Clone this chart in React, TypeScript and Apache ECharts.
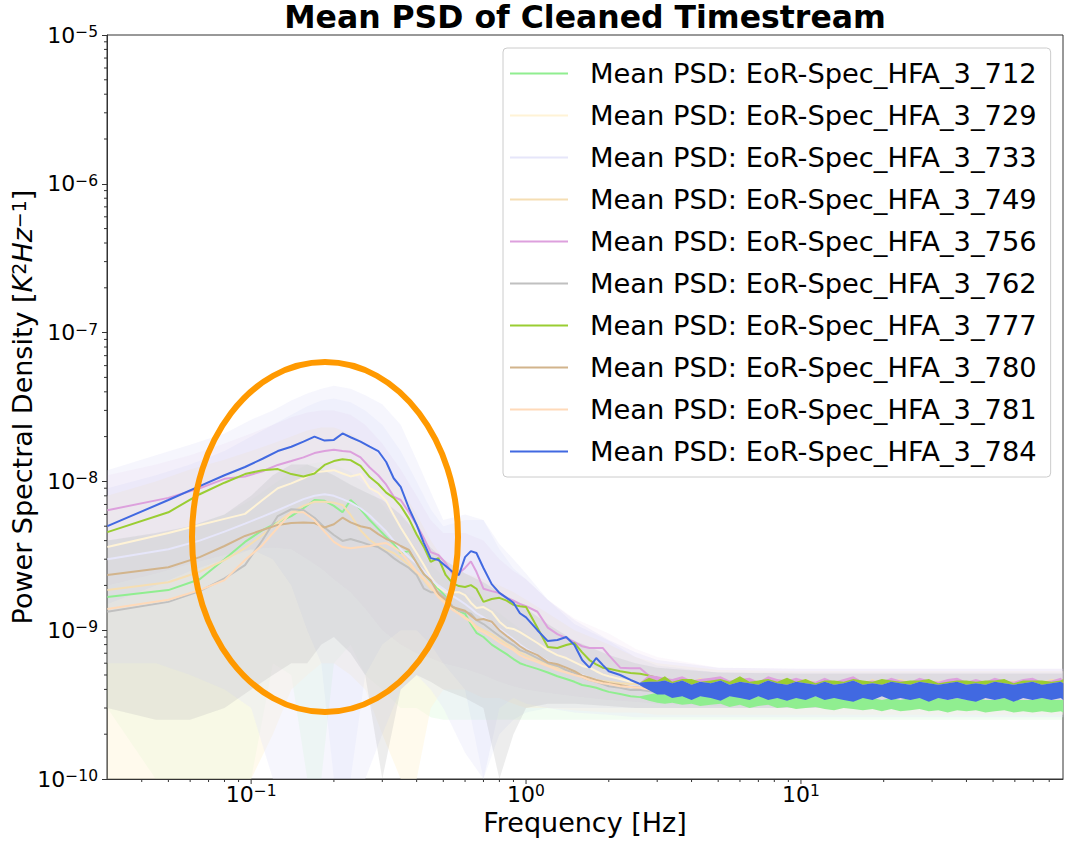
import React, { useEffect, useRef } from 'react';
import * as echarts from 'echarts';

const FONT = "'DejaVu Sans', 'Noto Sans', sans-serif";

const TITLE = 'Mean PSD of Cleaned Timestream';
const X_NAME = 'Frequency [Hz]';
const X_MIN = 0.0299;
const X_MAX = 89.8;
const Y_MIN = 1e-10;
const Y_MAX = 1e-5;
const X_TICK_EXPONENTS = [-1, 0, 1];
const Y_TICK_EXPONENTS = [-10, -9, -8, -7, -6, -5];
const X_MINOR_TICKS = [0.04, 0.05, 0.06, 0.07, 0.08, 0.09, 0.2, 0.3, 0.4, 0.5, 0.6, 0.7, 0.8, 0.9,
  2, 3, 4, 5, 6, 7, 8, 9, 20, 30, 40, 50, 60, 70, 80];
const X_MAJOR_TICKS = [0.1, 1, 10];
const Y_MINOR_TICKS = [
  2e-10, 3e-10, 4e-10, 5e-10, 6e-10, 7e-10, 8e-10, 9e-10,
  2e-9, 3e-9, 4e-9, 5e-9, 6e-9, 7e-9, 8e-9, 9e-9,
  2e-8, 3e-8, 4e-8, 5e-8, 6e-8, 7e-8, 8e-8, 9e-8,
  2e-7, 3e-7, 4e-7, 5e-7, 6e-7, 7e-7, 8e-7, 9e-7,
  2e-6, 3e-6, 4e-6, 5e-6, 6e-6, 7e-6, 8e-6, 9e-6];

const DETECTORS = ['712', '729', '733', '749', '756', '762', '777', '780', '781', '784'];
const COLORS = ['#90EE90', '#FFF3D6', '#E6E6FA', '#F5DEB3', '#DDA0DD', '#C0C0C0', '#9ACD32', '#D2B48C', '#FFDAB9', '#4169E1'];

// frequency grid of the mean PSD curves (low / mid frequencies)
const FREQ = [0.030, 0.050, 0.065, 0.080, 0.095, 0.110, 0.125, 0.140, 0.155, 0.170,
  0.185, 0.200, 0.215, 0.230, 0.250, 0.270, 0.290, 0.310, 0.330, 0.350,
  0.375, 0.400, 0.425, 0.450, 0.480, 0.510, 0.540, 0.570, 0.600, 0.630,
  0.660, 0.700, 0.750, 0.800, 0.850, 0.900, 0.950, 1.00, 1.10, 1.20,
  1.30, 1.40, 1.50, 1.60, 1.70, 1.80, 1.90, 2.00, 2.20, 2.40,
  2.60, 2.80, 3.00];

const PSD_712 = [1.67e-9, 1.86e-9, 2.2e-9, 3.0e-9, 3.92e-9, 4.7e-9, 5.3e-9, 5.85e-9, 6.6e-9, 7.5e-9,
  7.4e-9, 6.85e-9, 6.2e-9, 7.5e-9, 6.5e-9, 5.5e-9, 4.8e-9, 4.23e-9, 3.8e-9, 3.3e-9,
  3.4e-9, 2.83e-9, 2.4e-9, 2.14e-9, 1.9e-9, 1.68e-9, 1.41e-9, 1.35e-9, 1.29e-9, 1.1e-9,
  9.6e-10, 9.0e-10, 8.0e-10, 7.4e-10, 6.9e-10, 6.4e-10, 6.0e-10, 5.8e-10, 5.5e-10, 5.2e-10,
  4.9e-10, 4.7e-10, 4.5e-10, 4.28e-10, 4.2e-10, 4.1e-10, 3.96e-10, 3.85e-10, 3.72e-10, 3.6e-10,
  3.55e-10, 3.5e-10, 3.45e-10];
const PSD_729 = [3.62e-9, 4.5e-9, 5.1e-9, 5.6e-9, 6.05e-9, 7.5e-9, 9.0e-9, 9.7e-9, 1.05e-8, 1.15e-8,
  1.17e-8, 1.19e-8, 1.13e-8, 1.08e-8, 1.12e-8, 9.0e-9, 8.4e-9, 7.4e-9, 5.95e-9, 4.9e-9,
  4.0e-9, 3.3e-9, 2.74e-9, 2.27e-9, 1.95e-9, 1.8e-9, 1.8e-9, 1.8e-9, 1.72e-9, 1.53e-9,
  1.41e-9, 1.43e-9, 1.33e-9, 1.14e-9, 1.04e-9, 1.02e-9, 9.7e-10, 9.15e-10, 8.2e-10, 7.35e-10,
  6.8e-10, 6.5e-10, 6.1e-10, 5.75e-10, 5.6e-10, 5.3e-10, 5.05e-10, 4.9e-10, 4.7e-10, 4.5e-10,
  4.4e-10, 4.28e-10, 4.2e-10];
const PSD_733 = [3.0e-9, 3.5e-9, 4.0e-9, 4.6e-9, 5.2e-9, 5.8e-9, 6.4e-9, 7.0e-9, 7.6e-9, 8.0e-9,
  8.2e-9, 8.0e-9, 7.6e-9, 7.2e-9, 6.6e-9, 5.9e-9, 5.2e-9, 4.6e-9, 4.0e-9, 3.5e-9,
  3.1e-9, 2.8e-9, 2.5e-9, 2.2e-9, 2.0e-9, 1.85e-9, 1.7e-9, 1.6e-9, 1.5e-9, 1.4e-9,
  1.3e-9, 1.22e-9, 1.12e-9, 1.02e-9, 9.4e-10, 8.7e-10, 8.0e-10, 7.5e-10, 6.8e-10, 6.2e-10,
  5.8e-10, 5.5e-10, 5.2e-10, 5.0e-10, 4.8e-10, 4.65e-10, 4.5e-10, 4.4e-10, 4.3e-10, 4.2e-10,
  4.15e-10, 4.1e-10, 4.05e-10];
const PSD_749 = [1.86e-9, 2.1e-9, 2.47e-9, 2.96e-9, 3.56e-9, 4.36e-9, 5.3e-9, 6.2e-9, 6.85e-9, 7.3e-9,
  7.3e-9, 7.2e-9, 6.95e-9, 5.95e-9, 4.7e-9, 4.04e-9, 3.68e-9, 3.46e-9, 3.3e-9, 3.05e-9,
  2.74e-9, 2.42e-9, 2.17e-9, 1.9e-9, 1.7e-9, 1.53e-9, 1.39e-9, 1.3e-9, 1.22e-9, 1.15e-9,
  1.06e-9, 1.0e-9, 9.4e-10, 8.7e-10, 8.1e-10, 7.6e-10, 7.1e-10, 6.8e-10, 6.3e-10, 5.9e-10,
  5.6e-10, 5.4e-10, 5.15e-10, 4.95e-10, 4.8e-10, 4.63e-10, 4.55e-10, 4.5e-10, 4.4e-10, 4.35e-10,
  4.35e-10, 4.28e-10, 4.28e-10];
const PSD_756 = [6.4e-9, 7.75e-9, 9.0e-9, 1.04e-8, 1.08e-8, 1.17e-8, 1.29e-8, 1.37e-8, 1.45e-8, 1.55e-8,
  1.60e-8, 1.63e-8, 1.60e-8, 1.58e-8, 1.45e-8, 1.24e-8, 1.10e-8, 9.5e-9, 7.9e-9, 7.5e-9,
  6.2e-9, 5.1e-9, 4.15e-9, 3.35e-9, 3.2e-9, 2.83e-9, 2.4e-9, 2.42e-9, 2.62e-9, 2.9e-9,
  2.47e-9, 1.9e-9, 1.83e-9, 1.78e-9, 1.65e-9, 1.58e-9, 1.5e-9, 1.45e-9, 1.33e-9, 1.04e-9,
  9.4e-10, 8.85e-10, 8.3e-10, 7.8e-10, 7.6e-10, 7.6e-10, 7.6e-10, 6.8e-10, 5.6e-10, 5.55e-10,
  5.55e-10, 4.95e-10, 4.63e-10];
const PSD_762 = [1.33e-9, 1.55e-9, 1.83e-9, 2.23e-9, 2.74e-9, 4.04e-9, 5.85e-9, 6.5e-9, 6.42e-9, 5.7e-9,
  4.9e-9, 4.36e-9, 3.98e-9, 4.1e-9, 3.92e-9, 3.74e-9, 3.62e-9, 3.35e-9, 3.05e-9, 2.83e-9,
  2.62e-9, 2.35e-9, 1.9e-9, 1.8e-9, 1.8e-9, 1.65e-9, 1.45e-9, 1.35e-9, 1.33e-9, 1.29e-9,
  1.17e-9, 1.1e-9, 1.0e-9, 9.15e-10, 8.45e-10, 7.95e-10, 7.35e-10, 7.1e-10, 6.5e-10, 6.0e-10,
  5.75e-10, 5.4e-10, 5.15e-10, 4.85e-10, 4.63e-10, 4.5e-10, 4.35e-10, 4.2e-10, 4.1e-10, 3.96e-10,
  3.96e-10, 3.9e-10, 3.85e-10];
const PSD_777 = [4.56e-9, 6.2e-9, 8.2e-9, 9.8e-9, 1.12e-8, 1.19e-8, 1.21e-8, 1.12e-8, 1.08e-8, 1.13e-8,
  1.29e-8, 1.37e-8, 1.41e-8, 1.39e-8, 1.27e-8, 1.07e-8, 9.6e-9, 8.4e-9, 7.75e-9, 6.85e-9,
  5.6e-9, 4.4e-9, 3.63e-9, 2.88e-9, 3.05e-9, 2.35e-9, 2.07e-9, 1.98e-9, 1.95e-9, 2.01e-9,
  1.9e-9, 1.55e-9, 1.62e-9, 1.65e-9, 1.58e-9, 1.48e-9, 1.45e-9, 1.43e-9, 1.04e-9, 7.7e-10,
  7.6e-10, 7.95e-10, 8.2e-10, 7.1e-10, 6.3e-10, 5.9e-10, 5.6e-10, 5.5e-10, 5.3e-10, 5.15e-10,
  5.1e-10, 4.95e-10, 4.8e-10];
const PSD_780 = [2.35e-9, 2.65e-9, 3.1e-9, 3.68e-9, 4.3e-9, 4.71e-9, 5.1e-9, 5.25e-9, 5.3e-9, 5.25e-9,
  4.9e-9, 5.15e-9, 5.7e-9, 5.3e-9, 5.0e-9, 4.85e-9, 4.42e-9, 4.1e-9, 3.92e-9, 3.68e-9,
  3.46e-9, 2.83e-9, 2.38e-9, 2.17e-9, 1.75e-9, 1.6e-9, 1.43e-9, 1.39e-9, 1.35e-9, 1.25e-9,
  1.17e-9, 1.19e-9, 1.14e-9, 1.0e-9, 9.15e-10, 8.45e-10, 7.8e-10, 7.35e-10, 6.8e-10, 6.1e-10,
  5.9e-10, 5.6e-10, 5.3e-10, 4.95e-10, 4.8e-10, 4.63e-10, 4.5e-10, 4.4e-10, 4.28e-10, 4.15e-10,
  4.1e-10, 4.1e-10, 4.0e-10];
const PSD_781 = [1.39e-9, 1.6e-9, 1.86e-9, 2.17e-9, 2.96e-9, 3.74e-9, 4.9e-9, 6.2e-9, 6.2e-9, 5.5e-9,
  4.6e-9, 3.92e-9, 3.62e-9, 3.56e-9, 3.62e-9, 3.68e-9, 3.8e-9, 3.85e-9, 3.62e-9, 3.35e-9,
  2.88e-9, 2.47e-9, 2.23e-9, 1.98e-9, 1.67e-9, 1.5e-9, 1.37e-9, 1.29e-9, 1.2e-9, 1.14e-9,
  1.02e-9, 9.7e-10, 9.0e-10, 8.3e-10, 7.8e-10, 7.35e-10, 6.8e-10, 6.5e-10, 6.1e-10, 5.75e-10,
  5.4e-10, 5.2e-10, 5.0e-10, 4.85e-10, 4.63e-10, 4.5e-10, 4.4e-10, 4.35e-10, 4.2e-10, 4.15e-10,
  4.1e-10, 4.0e-10, 3.96e-10];
const PSD_784 = [5.0e-9, 7.5e-9, 9.3e-9, 1.10e-8, 1.25e-8, 1.42e-8, 1.60e-8, 1.71e-8, 1.85e-8, 2.0e-8,
  1.88e-8, 1.9e-8, 2.1e-8, 1.98e-8, 1.85e-8, 1.71e-8, 1.60e-8, 1.35e-8, 1.05e-8, 9.2e-9,
  6.6e-9, 5.1e-9, 3.85e-9, 3.05e-9, 2.96e-9, 2.7e-9, 2.47e-9, 2.35e-9, 3.1e-9, 3.4e-9,
  3.3e-9, 2.62e-9, 2.04e-9, 1.78e-9, 1.65e-9, 1.53e-9, 1.30e-9, 1.22e-9, 1.00e-9, 8.45e-10,
  8.6e-10, 9.0e-10, 7.95e-10, 6.3e-10, 5.6e-10, 6.5e-10, 5.85e-10, 5.3e-10, 5.0e-10, 4.63e-10,
  4.35e-10, 4.4e-10, 4.15e-10];
const MEAN_PSD = [PSD_712, PSD_729, PSD_733, PSD_749, PSD_756, PSD_762, PSD_777, PSD_780, PSD_781, PSD_784];

// spread (mean +/- std) shaded regions
const BAND_F = [0.03, 0.045, 0.06, 0.08, 0.1, 0.12, 0.14, 0.16, 0.18, 0.2,
  0.23, 0.26, 0.3, 0.35, 0.4, 0.45, 0.5, 0.6, 0.7, 0.8,
  0.9, 1.0, 1.2, 1.5, 2.0, 2.5, 3.0, 5, 10, 20,
  40, 90];
const BAND_733_HI = [1.19e-8, 1.5e-8, 1.76e-8, 2.1e-8, 2.6e-8, 3.0e-8, 3.5e-8, 3.9e-8, 4.2e-8, 4.4e-8,
  4.2e-8, 3.8e-8, 3.3e-8, 2.4e-8, 1.39e-8, 8.5e-9, 5.5e-9, 6.0e-9, 5.5e-9, 3.8e-9,
  3.0e-9, 2.4e-9, 1.6e-9, 1.17e-9, 8.6e-10, 7.1e-10, 6.3e-10, 5.6e-10, 5.5e-10, 5.5e-10,
  5.5e-10, 5.5e-10];
const BAND_733_LO = [6e-10, 6e-10, 5e-10, 4e-10, 3e-10, 1e-12, 1e-12, 1e-12, 1e-12, 1e-12,
  1e-12, 1e-12, 2e-10, 4e-10, 5e-10, 4e-10, 3e-10, 1.5e-10, 1e-12, 3e-10,
  3.5e-10, 3.2e-10, 3e-10, 2.8e-10, 2.7e-10, 2.6e-10, 2.6e-10, 2.6e-10, 2.6e-10, 2.6e-10,
  2.6e-10, 2.6e-10];
const BAND_729_HI = [8e-9, 1.0e-8, 1.2e-8, 1.4e-8, 1.6e-8, 1.8e-8, 2.0e-8, 2.2e-8, 2.3e-8, 2.3e-8,
  2.1e-8, 1.8e-8, 1.4e-8, 9e-9, 6e-9, 4e-9, 3e-9, 2.4e-9, 2.2e-9, 2e-9,
  1.8e-9, 1.6e-9, 1.3e-9, 1.0e-9, 8e-10, 6.6e-10, 6e-10, 5.4e-10, 5.3e-10, 5.3e-10,
  5.3e-10, 5.3e-10];
const BAND_729_LO = [1e-12, 1e-12, 1e-12, 1e-12, 1e-12, 2e-10, 4e-10, 5e-10, 6e-10, 6e-10,
  5e-10, 4e-10, 2e-10, 1e-12, 1e-12, 3e-10, 4e-10, 4e-10, 3.5e-10, 3.5e-10,
  3.2e-10, 3e-10, 3e-10, 2.9e-10, 2.8e-10, 2.8e-10, 2.7e-10, 2.7e-10, 2.7e-10, 2.7e-10,
  2.7e-10, 2.7e-10];
const BAND_756_HI = [1.1e-8, 1.3e-8, 1.5e-8, 1.8e-8, 2.1e-8, 2.4e-8, 2.7e-8, 2.9e-8, 3.0e-8, 3.0e-8,
  2.8e-8, 2.4e-8, 1.8e-8, 1.2e-8, 8e-9, 5.5e-9, 4.5e-9, 4.5e-9, 4.0e-9, 3.0e-9,
  2.5e-9, 2.2e-9, 1.6e-9, 1.2e-9, 9.5e-10, 7.5e-10, 6.6e-10, 5.6e-10, 5.5e-10, 5.5e-10,
  5.5e-10, 5.5e-10];
const BAND_756_LO = [2e-9, 2.4e-9, 2.8e-9, 3.2e-9, 3.5e-9, 3.6e-9, 3.5e-9, 3.0e-9, 2.6e-9, 2.2e-9,
  1.8e-9, 1.4e-9, 1.0e-9, 8e-10, 7e-10, 6.5e-10, 6e-10, 5.5e-10, 5e-10, 4.5e-10,
  4.2e-10, 4e-10, 3.8e-10, 3.6e-10, 3.4e-10, 3.3e-10, 3.2e-10, 3.1e-10, 3.1e-10, 3.1e-10,
  3.1e-10, 3.1e-10];
const BAND_762_HI = [4e-9, 4.5e-9, 5e-9, 6e-9, 8e-9, 1.1e-8, 1.3e-8, 1.3e-8, 1.2e-8, 1.1e-8,
  9.5e-9, 8.5e-9, 7.5e-9, 6e-9, 4.5e-9, 3.6e-9, 3e-9, 2.4e-9, 2.1e-9, 1.8e-9,
  1.6e-9, 1.4e-9, 1.1e-9, 8.5e-10, 6.8e-10, 6e-10, 5.6e-10, 5.2e-10, 5.1e-10, 5.1e-10,
  5.1e-10, 5.1e-10];
const BAND_762_LO = [3e-10, 2.5e-10, 2.5e-10, 3e-10, 4e-10, 5e-10, 6e-10, 6e-10, 8e-10, 9e-10,
  7e-10, 5e-10, 1e-12, 4e-10, 5e-10, 4.5e-10, 4e-10, 3.5e-10, 3e-10, 1e-12,
  2e-10, 3e-10, 3.2e-10, 3.2e-10, 3.1e-10, 3e-10, 3e-10, 3e-10, 3e-10, 3e-10,
  3e-10, 3e-10];
const BAND_784_HI = [9e-9, 1.1e-8, 1.3e-8, 1.6e-8, 2.0e-8, 2.4e-8, 2.8e-8, 3.2e-8, 3.5e-8, 3.6e-8,
  3.4e-8, 3.0e-8, 2.4e-8, 1.6e-8, 1.0e-8, 6.5e-9, 5e-9, 5.5e-9, 5.5e-9, 3.5e-9,
  2.6e-9, 2.2e-9, 1.6e-9, 1.1e-9, 8.5e-10, 6.6e-10, 5.8e-10, 5.2e-10, 5.2e-10, 5.2e-10,
  5.2e-10, 5.2e-10];
const BAND_784_LO = [1.5e-9, 2e-9, 2.5e-9, 3e-9, 3.5e-9, 3e-9, 2e-9, 1e-9, 6e-10, 1e-12,
  1e-12, 5e-10, 8e-10, 1e-9, 1e-9, 8e-10, 6e-10, 4e-10, 1e-12, 2e-10,
  2.5e-10, 2.8e-10, 3e-10, 3e-10, 3e-10, 3e-10, 3e-10, 3e-10, 3e-10, 3e-10,
  3e-10, 3e-10];
const BAND_712_HI = [4e-9, 4.4e-9, 5e-9, 6e-9, 7.5e-9, 9.5e-9, 1.15e-8, 1.3e-8, 1.35e-8, 1.3e-8,
  1.15e-8, 9.5e-9, 7e-9, 5e-9, 3.5e-9, 2.8e-9, 2.3e-9, 1.8e-9, 1.5e-9, 1.3e-9,
  1.1e-9, 9.5e-10, 7.5e-10, 6e-10, 5e-10, 4.5e-10, 4.2e-10, 4e-10, 3.9e-10, 3.8e-10,
  3.7e-10, 3.6e-10];
const BAND_712_LO = [3e-10, 1e-12, 1e-12, 1e-12, 1e-12, 6e-10, 5e-10, 1e-12, 1e-12, 6e-10,
  8e-10, 5e-10, 4e-10, 3e-10, 3e-10, 2.6e-10, 2.5e-10, 2.5e-10, 2.5e-10, 2.5e-10,
  2.5e-10, 2.5e-10, 2.5e-10, 2.5e-10, 2.5e-10, 2.5e-10, 2.5e-10, 2.5e-10, 2.5e-10, 2.5e-10,
  2.5e-10, 2.5e-10];

// high-frequency white-noise floor: envelope of the fast-fluctuating mean curves
const HF_F = [2.6, 2.8, 3.0, 3.2, 3.4, 3.7, 4.0, 4.3, 4.7, 5.1,
  5.5, 6.0, 6.5, 7.0, 7.6, 8.2, 8.9, 9.6, 10.4, 11.3,
  12.2, 13.2, 14.3, 15.5, 16.8, 18.2, 19.7, 21.3, 23.0, 25.0,
  27.0, 29.2, 31.6, 34.2, 37.0, 40.0, 43.3, 46.9, 50.7, 54.9,
  59.4, 64.3, 69.6, 75.3, 81.5, 88.2, 90.0];
const HF_784_HI = [4.45e-10, 4.5e-10, 4.5e-10, 4.6e-10, 4.4e-10, 4.6e-10, 4.3e-10, 4.5e-10, 4.4e-10, 4.6e-10,
  4.3e-10, 4.5e-10, 4.4e-10, 4.3e-10, 4.6e-10, 4.4e-10, 4.3e-10, 4.5e-10, 4.4e-10, 4.3e-10,
  4.5e-10, 4.3e-10, 4.4e-10, 4.6e-10, 4.3e-10, 4.4e-10, 4.3e-10, 4.5e-10, 4.4e-10, 4.3e-10,
  4.5e-10, 4.4e-10, 4.3e-10, 4.4e-10, 4.5e-10, 4.3e-10, 4.4e-10, 4.3e-10, 4.5e-10, 4.4e-10,
  4.3e-10, 4.4e-10, 4.5e-10, 4.3e-10, 4.4e-10, 4.5e-10, 4.4e-10];
const HF_784_LO = [4.25e-10, 3.95e-10, 3.7e-10, 3.7e-10, 3.5e-10, 3.6e-10, 3.4e-10, 3.6e-10, 3.5e-10, 3.35e-10,
  3.6e-10, 3.5e-10, 3.4e-10, 3.6e-10, 3.4e-10, 3.5e-10, 3.35e-10, 3.5e-10, 3.4e-10, 3.6e-10,
  3.4e-10, 3.5e-10, 3.4e-10, 3.3e-10, 3.5e-10, 3.4e-10, 3.6e-10, 3.4e-10, 3.5e-10, 3.4e-10,
  3.5e-10, 3.3e-10, 3.5e-10, 3.4e-10, 3.5e-10, 3.4e-10, 3.3e-10, 3.5e-10, 3.4e-10, 3.5e-10,
  3.3e-10, 3.5e-10, 3.4e-10, 3.5e-10, 3.4e-10, 3.5e-10, 3.4e-10];
const HF_712_HI = [3.6e-10, 3.7e-10, 3.8e-10, 3.7e-10, 3.7e-10, 3.6e-10, 3.7e-10, 3.6e-10, 3.6e-10, 3.7e-10,
  3.6e-10, 3.6e-10, 3.5e-10, 3.6e-10, 3.6e-10, 3.5e-10, 3.6e-10, 3.5e-10, 3.5e-10, 3.6e-10,
  3.5e-10, 3.5e-10, 3.5e-10, 3.6e-10, 3.5e-10, 3.5e-10, 3.4e-10, 3.5e-10, 3.4e-10, 3.5e-10,
  3.5e-10, 3.4e-10, 3.5e-10, 3.4e-10, 3.5e-10, 3.4e-10, 3.5e-10, 3.4e-10, 3.4e-10, 3.5e-10,
  3.4e-10, 3.4e-10, 3.4e-10, 3.5e-10, 3.4e-10, 3.4e-10, 3.4e-10];
const HF_712_LO = [3.5e-10, 3.35e-10, 3.25e-10, 3.2e-10, 3.25e-10, 3.15e-10, 3.2e-10, 3.1e-10, 3.15e-10, 3.2e-10,
  3.05e-10, 3.15e-10, 3.0e-10, 3.1e-10, 3.15e-10, 3.0e-10, 3.05e-10, 2.95e-10, 3.0e-10, 3.05e-10,
  2.95e-10, 2.9e-10, 3.0e-10, 2.95e-10, 2.9e-10, 2.95e-10, 2.85e-10, 2.95e-10, 2.85e-10, 2.9e-10,
  2.95e-10, 2.85e-10, 2.9e-10, 2.8e-10, 2.9e-10, 2.85e-10, 2.9e-10, 2.8e-10, 2.85e-10, 2.9e-10,
  2.8e-10, 2.85e-10, 2.8e-10, 2.85e-10, 2.8e-10, 2.85e-10, 2.8e-10];
const HF_749_HI = [4.45e-10, 4.7e-10, 4.8e-10, 4.6e-10, 4.6e-10, 4.6e-10, 4.5e-10, 4.8e-10, 4.5e-10, 4.6e-10,
  4.6e-10, 4.6e-10, 4.6e-10, 4.5e-10, 4.7e-10, 4.6e-10, 4.5e-10, 4.6e-10, 4.7e-10, 4.5e-10,
  4.6e-10, 4.4e-10, 4.6e-10, 4.7e-10, 4.4e-10, 4.7e-10, 4.4e-10, 4.6e-10, 4.7e-10, 4.5e-10,
  4.6e-10, 4.5e-10, 4.6e-10, 4.6e-10, 4.5e-10, 4.5e-10, 4.6e-10, 4.4e-10, 4.6e-10, 4.5e-10,
  4.6e-10, 4.5e-10, 4.6e-10, 4.5e-10, 4.7e-10, 4.6e-10, 4.5e-10];
const HF_756_HI = [4.45e-10, 5.0e-10, 4.9e-10, 4.8e-10, 4.7e-10, 4.9e-10, 4.6e-10, 4.7e-10, 4.8e-10, 4.9e-10,
  4.6e-10, 4.7e-10, 4.8e-10, 4.5e-10, 4.9e-10, 4.7e-10, 4.6e-10, 4.8e-10, 4.6e-10, 4.5e-10,
  4.8e-10, 4.5e-10, 4.7e-10, 4.9e-10, 4.5e-10, 4.6e-10, 4.5e-10, 4.8e-10, 4.6e-10, 4.5e-10,
  4.8e-10, 4.6e-10, 4.5e-10, 4.7e-10, 4.8e-10, 4.5e-10, 4.7e-10, 4.5e-10, 4.8e-10, 4.6e-10,
  4.5e-10, 4.7e-10, 4.8e-10, 4.5e-10, 4.6e-10, 4.8e-10, 4.6e-10];
const HF_777_HI = [4.45e-10, 4.8e-10, 4.6e-10, 4.9e-10, 4.5e-10, 4.7e-10, 4.7e-10, 4.5e-10, 4.6e-10, 4.7e-10,
  4.5e-10, 4.9e-10, 4.5e-10, 4.6e-10, 4.7e-10, 4.5e-10, 4.8e-10, 4.5e-10, 4.7e-10, 4.4e-10,
  4.6e-10, 4.6e-10, 4.5e-10, 4.7e-10, 4.6e-10, 4.5e-10, 4.7e-10, 4.6e-10, 4.5e-10, 4.6e-10,
  4.6e-10, 4.7e-10, 4.4e-10, 4.5e-10, 4.6e-10, 4.6e-10, 4.5e-10, 4.6e-10, 4.6e-10, 4.7e-10,
  4.4e-10, 4.6e-10, 4.6e-10, 4.6e-10, 4.5e-10, 4.6e-10, 4.7e-10];

const ELLIPSE = { cx: 325, cy: 537, rx: 133, ry: 175 };

function fmtPow(v: number, exps: number[]) {
  const l = Math.log10(v);
  const e = Math.round(l);
  if (Math.abs(l - e) > 1e-6 || exps.indexOf(e) < 0) return '';
  return `{b|10}{s|${e < 0 ? '\u2212' : ''}${Math.abs(e)}}`;
}

const SUP_RICH = {
  b: { fontSize: 22, fontFamily: FONT, color: '#000', lineHeight: 22, padding: [5, 0, 0, 0], verticalAlign: 'bottom' },
  s: { fontSize: 15.5, fontFamily: FONT, color: '#000', lineHeight: 15, verticalAlign: 'top' },
};

// filled region between two curves, drawn through the cartesian scales
function bandSeries(f: number[], lo: number[], hi: number[], color: string, opacity: number, z: number) {
  const fill = echarts.color.modifyAlpha(color, opacity);
  return {
    type: 'custom', silent: true, z, clip: false,
    data: [[f[0], hi[0]]],
    renderItem: (params: any, api: any) => {
      const cs = params.coordSys;
      const top = cs.y;
      const bot = cs.y + cs.height;
      const pts: number[][] = [];
      for (let i = 0; i < f.length; i++) pts.push(api.coord([f[i], hi[i]]));
      for (let i = f.length - 1; i >= 0; i--) pts.push(api.coord([f[i], lo[i]]));
      return {
        type: 'polygon',
        shape: { points: pts.map((p) => [p[0], Math.min(bot, Math.max(top, p[1]))]) },
        style: { fill, stroke: 'none' },
      };
    },
  };
}

function tickSeries(data: number[][], dx: number, dy: number) {
  return {
    type: 'custom', silent: true, z: 10, clip: false,
    data,
    renderItem: (_p: any, api: any) => {
      const p = api.coord([api.value(0), api.value(1)]);
      return {
        type: 'line',
        shape: { x1: p[0], y1: p[1], x2: p[0] + dx, y2: p[1] + dy },
        style: { stroke: '#333', lineWidth: 1 },
      };
    },
  };
}

export default function App() {
  const ref = useRef<HTMLDivElement>(null);
  useEffect(() => {
    if (!ref.current) return;
    const chart = echarts.init(ref.current, undefined, { renderer: 'svg' });
    const names = DETECTORS.map((d) => `Mean PSD: EoR-Spec_HFA_3_${d}`);
    const series: any[] = [];
    // spread bands
    series.push(bandSeries(BAND_F, BAND_712_LO, BAND_712_HI, COLORS[0], 0.12, 1));
    series.push(bandSeries(BAND_F, BAND_729_LO, BAND_729_HI, COLORS[1], 0.45, 1));
    series.push(bandSeries(BAND_F, BAND_733_LO, BAND_733_HI, COLORS[2], 0.35, 1));
    series.push(bandSeries(BAND_F, BAND_756_LO, BAND_756_HI, COLORS[4], 0.08, 1));
    series.push(bandSeries(BAND_F, BAND_762_LO, BAND_762_HI, COLORS[5], 0.28, 1));
    series.push(bandSeries(BAND_F, BAND_784_LO, BAND_784_HI, COLORS[9], 0.04, 1));
    // mean lines
    names.forEach((n, k) => {
      series.push({
        type: 'line', name: n, data: FREQ.map((f, i) => [f, MEAN_PSD[k][i]]),
        symbol: 'none', showSymbol: false, color: COLORS[k],
        lineStyle: { width: 2, color: COLORS[k] }, itemStyle: { color: COLORS[k] },
        z: k === 9 ? 6 : 3, clip: true,
      });
    });
    // high-frequency noise envelopes
    series.push(bandSeries(HF_F, HF_784_HI, HF_749_HI, COLORS[3], 1, 4));
    series.push(bandSeries(HF_F, HF_784_HI, HF_756_HI, COLORS[4], 1, 4));
    series.push(bandSeries(HF_F, HF_784_HI, HF_777_HI, COLORS[6], 1, 4));
    series.push(bandSeries(HF_F, HF_712_LO, HF_712_HI, COLORS[0], 1, 4));
    series.push(bandSeries(HF_F, HF_784_LO, HF_784_HI, COLORS[9], 1, 5));
    // minor / major ticks
    series.push(tickSeries(X_MINOR_TICKS.map((v) => [v, Y_MIN]), 0, 3));
    series.push(tickSeries(X_MAJOR_TICKS.map((v) => [v, Y_MIN]), 0, 5));
    series.push(tickSeries(Y_MINOR_TICKS.map((v) => [X_MIN, v]), -3, 0));

    chart.setOption({
      animation: false,
      backgroundColor: '#ffffff',
      textStyle: { fontFamily: FONT },
      title: {
        text: TITLE, left: 585, top: 1, textAlign: 'center', padding: 0,
        textStyle: { fontFamily: FONT, fontWeight: 'bold', fontSize: 31.5, color: '#000', lineHeight: 31 },
      },
      grid: {
        left: 107, right: 2, top: 35, bottom: 62, containLabel: false, outerBoundsMode: 'none',
        show: true, borderColor: '#333', borderWidth: 1, backgroundColor: 'transparent',
      },
      legend: {
        data: names, orient: 'vertical', left: 503, top: 48, icon: 'rect', itemWidth: 58, itemHeight: 2,
        itemGap: 15, padding: [12, 14, 12, 7], backgroundColor: 'rgba(255,255,255,0.8)',
        borderColor: '#cccccc', borderWidth: 1, borderRadius: 4, selectedMode: false, z: 50,
        textStyle: { fontFamily: FONT, fontSize: 27.3, color: '#000', lineHeight: 27, padding: [0, 0, 0, 17] },
      },
      xAxis: {
        type: 'log', logBase: 10, min: X_MIN, max: X_MAX,
        axisLine: { show: true, lineStyle: { color: '#333', width: 1 } },
        axisTick: { show: false }, splitLine: { show: false }, minorTick: { show: false },
        axisLabel: {
          margin: 4, showMinLabel: false, showMaxLabel: false,
          formatter: (v: number) => fmtPow(v, X_TICK_EXPONENTS), rich: SUP_RICH,
        },
        name: X_NAME, nameLocation: 'middle', nameGap: 30, nameMoveOverlap: false,
        nameTextStyle: { fontFamily: FONT, fontSize: 27, color: '#000', lineHeight: 27 },
      },
      yAxis: {
        type: 'log', logBase: 10, min: Y_MIN, max: Y_MAX,
        axisLine: { show: true, lineStyle: { color: '#333', width: 1 } },
        axisTick: { show: true, inside: false, length: 5, lineStyle: { color: '#333', width: 1 } },
        splitLine: { show: false },
        axisLabel: { margin: 9, formatter: (v: number) => fmtPow(v, Y_TICK_EXPONENTS), rich: SUP_RICH },
        name: 'Power Spectral Density [{i|K}{s|2}{i|Hz}{s|\u22121}]',
        nameLocation: 'middle', nameGap: 71, nameRotate: 90, nameMoveOverlap: false,
        nameTextStyle: {
          fontFamily: FONT, fontSize: 27, color: '#000', lineHeight: 27,
          rich: {
            i: { fontFamily: FONT, fontSize: 27, fontStyle: 'italic', color: '#000', lineHeight: 27, padding: [5, 0, 0, 0], verticalAlign: 'bottom' },
            s: { fontFamily: FONT, fontSize: 19, color: '#000', lineHeight: 19, verticalAlign: 'top' },
          },
        },
      },
      graphic: [
        {
          type: 'ellipse', z: 100, silent: true,
          shape: ELLIPSE,
          style: { fill: 'none', stroke: '#FF9900', lineWidth: 6 },
        },
      ],
      series,
    });
    return () => chart.dispose();
  }, []);
  return <div ref={ref} style={{ position: 'fixed', left: 0, top: 0, width: 1065, height: 841 }} />;
}
